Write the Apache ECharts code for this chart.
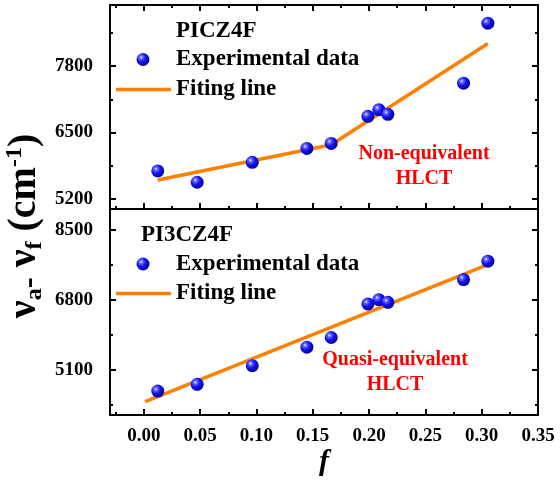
<!DOCTYPE html>
<html>
<head>
<meta charset="utf-8">
<script src="https://cdn.jsdelivr.net/npm/echarts@6/dist/echarts.min.js"></script>
<style>
html,body{margin:0;padding:0;background:#fff;}
#chart{width:560px;height:481px;}
</style>
</head>
<body>
<div id="chart"></div>
<script>
// ---- data ----
var fValues = [0.0124, 0.0474, 0.0963, 0.1448, 0.1664, 0.1990, 0.2087, 0.2167, 0.2839, 0.3055];
var picz4f  = [5746, 5525, 5915, 6188, 6286, 6818, 6948, 6857, 7467, 8644];
var pi3cz4f = [4581, 4744, 5198, 5646, 5881, 6695, 6800, 6734, 7288, 7734];
var fitTopX = [0.0124, 0.1664, 0.3055];
var fitTopY = [5570, 6260, 8246];
var fitBotX = [0.0012, 0.3055];
var fitBotY = [4325, 7650];
var xMajor = [0, 0.05, 0.10, 0.15, 0.20, 0.25, 0.30, 0.35];
var xMinor = [-0.025, 0.025, 0.075, 0.125, 0.175, 0.225, 0.275, 0.325];
var yTopMajor = [5200, 6500, 7800];
var yTopMinor = [5850, 7150, 8450];
var yBotMajor = [5100, 6800, 8500];
var yBotMinor = [4250, 5950, 7650];

var FONT = 'Liberation Serif';
function pairs(xs, ys){ return xs.map(function(x,i){ return [x, ys[i]]; }); }

var sphere = {
  type: 'radial', x: 0.36, y: 0.34, r: 0.7,
  colorStops: [
    {offset: 0, color: '#f4f4ff'},
    {offset: 0.18, color: '#6a6aff'},
    {offset: 0.5, color: '#1414f0'},
    {offset: 1, color: '#00009a'}
  ]
};

function xAx(grid, pos, vals, len, line, labels){
  return {
    type: 'value', gridIndex: grid, position: pos, min: -0.03, max: 0.35,
    axisLine: {show: line, onZero: false, lineStyle: {color: '#000', width: 2}},
    axisTick: {show: vals.length > 0, inside: true, length: len, customValues: vals, lineStyle: {color: '#000', width: 2}},
    axisLabel: labels ? {show: true, customValues: xMajor, margin: 12, color: '#000', fontFamily: FONT, fontWeight: 'bold', fontSize: 19,
      formatter: function(v){ return v.toFixed(2); }} : {show: false},
    splitLine: {show: false}
  };
}
function yAx(grid, pos, min, max, vals, len, line, labelVals){
  return {
    type: 'value', gridIndex: grid, position: pos, min: min, max: max,
    axisLine: {show: line, onZero: false, lineStyle: {color: '#000', width: 2}},
    axisTick: {show: true, inside: true, length: len, customValues: vals, lineStyle: {color: '#000', width: 2}},
    axisLabel: labelVals ? {show: true, customValues: labelVals, margin: 17, color: '#000', fontFamily: FONT, fontWeight: 'bold', fontSize: 19,
      formatter: function(v){ return String(v); }} : {show: false},
    splitLine: {show: false}
  };
}

var boldText = 'bold 23px "Liberation Serif"';

function legendGroup(titleText, titleX, yTitle, yItem1, yItem2){
  return [
    {type: 'text', x: titleX, y: yTitle, z: 10,
     style: {text: titleText, fill: '#000', font: boldText, align: 'left', verticalAlign: 'middle', textAlign: 'left', textVerticalAlign: 'middle'}},
    {type: 'circle', shape: {cx: 143, cy: yItem1, r: 6.5}, z: 10, style: {fill: sphere}},
    {type: 'text', x: 176, y: yItem1, z: 10,
     style: {text: 'Experimental data', fill: '#000', font: boldText, align: 'left', verticalAlign: 'middle', textAlign: 'left', textVerticalAlign: 'middle'}},
    {type: 'line', shape: {x1: 116, y1: yItem2, x2: 171, y2: yItem2}, z: 10, style: {stroke: '#ff8000', lineWidth: 3.5}},
    {type: 'text', x: 176, y: yItem2, z: 10,
     style: {text: 'Fiting line', fill: '#000', font: boldText, align: 'left', verticalAlign: 'middle', textAlign: 'left', textVerticalAlign: 'middle'}}
  ];
}

var graphics = [].concat(
  legendGroup('PICZ4F', 176, 31, 59.5, 89.5),
  legendGroup('PI3CZ4F', 141, 235, 264, 293.5),
  [
    {type: 'text', x: 424, y: 166.5, z: 10,
     style: {text: 'Non-equivalent\nHLCT', fill: '#ff0000', font: 'bold 20px "Liberation Serif"',
       align: 'center', verticalAlign: 'middle', textAlign: 'center', textVerticalAlign: 'middle', lineHeight: 25}},
    {type: 'text', x: 395, y: 372.5, z: 10,
     style: {text: 'Quasi-equivalent\nHLCT', fill: '#ff0000', font: 'bold 20px "Liberation Serif"',
       align: 'center', verticalAlign: 'middle', textAlign: 'center', textVerticalAlign: 'middle', lineHeight: 25}},
    {type: 'text', x: 324, y: 462, z: 10,
     style: {text: 'f', fill: '#000', font: 'italic bold 30px "Liberation Serif"',
       align: 'center', verticalAlign: 'middle', textAlign: 'center', textVerticalAlign: 'middle'}},
    {type: 'text', x: 25, y: 226, rotation: Math.PI / 2, z: 10,
     style: {
       text: '{n|ν}{s|a}{d|-} {n|ν}{s|f}{n| (cm}{p|-1}{n|)}',
       fill: '#000', font: 'bold 40px "Liberation Serif"',
       align: 'center', verticalAlign: 'middle', textAlign: 'center', textVerticalAlign: 'middle',
       rich: {
         n: {fontFamily: FONT, fontWeight: 'bold', fontSize: 40, lineHeight: 44, fill: '#000', color: '#000'},
         s: {fontFamily: FONT, fontWeight: 'bold', fontSize: 24, lineHeight: 18, verticalAlign: 'bottom', fill: '#000', color: '#000'},
         d: {fontFamily: FONT, fontWeight: 'bold', fontSize: 33, lineHeight: 33, verticalAlign: 'bottom', fill: '#000', color: '#000'},
         p: {fontFamily: FONT, fontWeight: 'bold', fontSize: 24, lineHeight: 18, verticalAlign: 'top', fill: '#000', color: '#000'}
       }
     }}
  ]
);

var option = {
  animation: false,
  backgroundColor: '#fff',
  grid: [
    {left: 110, top: 5, width: 428, height: 204},
    {left: 110, top: 209, width: 428, height: 206}
  ],
  xAxis: [
    xAx(0, 'bottom', xMajor, 6, true, false),
    xAx(0, 'bottom', xMinor, 3, false, false),
    xAx(0, 'top', xMajor, 6, true, false),
    xAx(0, 'top', xMinor, 3, false, false),
    xAx(1, 'bottom', xMajor, 6, true, true),
    xAx(1, 'bottom', xMinor, 3, false, false),
    xAx(1, 'top', [], 0, true, false)
  ],
  yAxis: [
    yAx(0, 'left', 5000, 9000, yTopMajor, 6, true, yTopMajor),
    yAx(0, 'left', 5000, 9000, yTopMinor, 3, false, null),
    yAx(0, 'right', 5000, 9000, yTopMajor, 6, true, null),
    yAx(0, 'right', 5000, 9000, yTopMinor, 3, false, null),
    yAx(1, 'left', 4000, 9000, yBotMajor, 6, true, yBotMajor),
    yAx(1, 'left', 4000, 9000, yBotMinor, 3, false, null),
    yAx(1, 'right', 4000, 9000, yBotMajor, 6, true, null),
    yAx(1, 'right', 4000, 9000, yBotMinor, 3, false, null)
  ],
  series: [
    {name: 'Fiting line', type: 'line', xAxisIndex: 0, yAxisIndex: 0, data: pairs(fitTopX, fitTopY),
     symbol: 'none', lineStyle: {color: '#ff8000', width: 3.5}, itemStyle: {color: '#ff8000'}, z: 2},
    {name: 'Experimental data', type: 'scatter', xAxisIndex: 0, yAxisIndex: 0, data: pairs(fValues, picz4f),
     symbol: 'circle', symbolSize: 13, itemStyle: {color: sphere, opacity: 1}, z: 3},
    {name: 'Fiting line', type: 'line', xAxisIndex: 4, yAxisIndex: 4, data: pairs(fitBotX, fitBotY),
     symbol: 'none', lineStyle: {color: '#ff8000', width: 3.5}, itemStyle: {color: '#ff8000'}, z: 2},
    {name: 'Experimental data', type: 'scatter', xAxisIndex: 4, yAxisIndex: 4, data: pairs(fValues, pi3cz4f),
     symbol: 'circle', symbolSize: 13, itemStyle: {color: sphere, opacity: 1}, z: 3}
  ],
  graphic: graphics
};

var chart = echarts.init(document.getElementById('chart'));
chart.setOption(option);
</script>
</body>
</html>
